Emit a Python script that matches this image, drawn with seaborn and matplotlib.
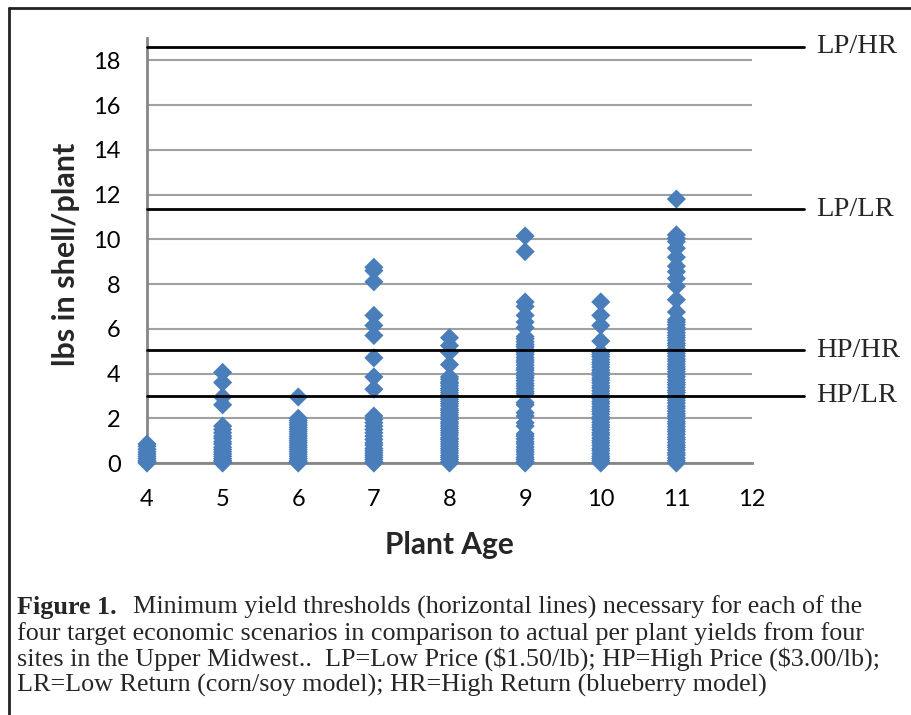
import numpy as np
import pandas as pd
import matplotlib
matplotlib.use("Agg")
import matplotlib.pyplot as plt
import matplotlib.transforms as mtransforms
from matplotlib.lines import Line2D
import seaborn as sns

# per-plant yields (lbs in shell), by plant age
yield_age4 = [0.85, 0.75, 0.62, 0.5, 0.4, 0.3, 0.2, 0.1, 0.05, 0.0]
yield_age5 = [4.05, 3.6, 2.95, 2.6, 1.65, 1.5, 1.35, 1.2, 1.1, 0.95, 0.85,
              0.7, 0.6, 0.5, 0.4, 0.3, 0.2, 0.12, 0.05, 0.0]
yield_age6 = [2.95, 2.0, 1.9, 1.8, 1.7, 1.6, 1.5, 1.4, 1.3, 1.2, 1.1, 1.0,
              0.9, 0.8, 0.7, 0.6, 0.5, 0.4, 0.3, 0.2, 0.1, 0.05, 0.0]
yield_age7 = [8.75, 8.6, 8.1, 6.6, 6.15, 5.7, 4.7, 3.85, 3.3, 2.1, 1.95,
              1.8, 1.65, 1.5, 1.35, 1.2, 1.05, 0.9, 0.8, 0.65, 0.55, 0.45,
              0.35, 0.25, 0.15, 0.05, 0.0]
yield_age8 = [5.6, 5.25, 4.95, 4.4, 3.85, 3.75, 3.62, 3.55, 3.45, 3.33, 3.25,
              3.15, 3.05, 2.92, 2.85, 2.75, 2.65, 2.55, 2.42, 2.35, 2.25,
              2.15, 2.05, 1.95, 1.83, 1.75, 1.65, 1.55, 1.45, 1.35, 1.25,
              1.12, 1.05, 0.95, 0.85, 0.75, 0.65, 0.55, 0.45, 0.33, 0.25,
              0.15, 0.05, 0.0]
yield_age9 = [10.15, 9.45, 7.2, 7.0, 6.6, 6.3, 6.05, 5.65, 5.55, 5.42, 5.3,
              5.2, 5.08, 4.95, 4.85, 4.72, 4.6, 4.5, 4.38, 4.25, 4.15, 4.02,
              3.9, 3.8, 3.68, 3.55, 3.45, 3.33, 3.2, 3.1, 2.7, 2.6, 2.25,
              2.1, 1.8, 1.65, 1.3, 1.2, 1.08, 0.95, 0.85, 0.72, 0.6, 0.5,
              0.38, 0.25, 0.15, 0.05, 0.0]
yield_age10 = [7.2, 6.6, 6.15, 5.45, 4.95, 4.85, 4.75, 4.62, 4.5, 4.4, 4.28,
               4.15, 4.05, 3.92, 3.8, 3.7, 3.58, 3.45, 3.35, 3.22, 3.1, 3.0,
               2.88, 2.75, 2.65, 2.52, 2.4, 2.3, 2.18, 2.05, 1.95, 1.82, 1.7,
               1.6, 1.48, 1.35, 1.25, 1.12, 1.0, 0.9, 0.78, 0.65, 0.55, 0.42,
               0.3, 0.2, 0.1, 0.0]
yield_age11 = [11.8, 10.2, 10.05, 9.9, 9.6, 9.2, 8.8, 8.55, 8.25, 7.9, 7.3,
               6.75, 6.4, 6.3, 6.18, 6.05, 5.95, 5.82, 5.7, 5.6, 5.48, 5.35,
               5.25, 5.12, 5.0, 4.9, 4.78, 4.65, 4.55, 4.42, 4.3, 4.2, 4.08,
               3.95, 3.85, 3.72, 3.6, 3.5, 3.38, 3.25, 3.15, 3.02, 2.9, 2.8,
               2.68, 2.55, 2.45, 2.32, 2.2, 2.1, 1.98, 1.85, 1.75, 1.62, 1.5,
               1.4, 1.28, 1.15, 1.05, 0.92, 0.8, 0.7, 0.58, 0.45, 0.35, 0.22,
               0.1, 0.0]

yields_by_age = {4: yield_age4, 5: yield_age5, 6: yield_age6, 7: yield_age7,
                 8: yield_age8, 9: yield_age9, 10: yield_age10, 11: yield_age11}

# minimum yield thresholds for the four scenarios
scenarios = ["LP/HR", "LP/LR", "HP/HR", "HP/LR"]
thresholds = [18.6, 11.35, 5.05, 3.0]

x_ticks = [4, 5, 6, 7, 8, 9, 10, 11, 12]
y_ticks = [0, 2, 4, 6, 8, 10, 12, 14, 16, 18]

df = pd.DataFrame([(age, v) for age, vals in yields_by_age.items() for v in vals],
                  columns=["age", "lbs"])

sns.set_style("white")
plt.rcParams["font.family"] = ["Lato", "DejaVu Sans"]

W, H = 911, 715
fig = plt.figure(figsize=(W / 100, H / 100), dpi=100)
# axes box in pixels: x 147..752, y 38..463
ax = fig.add_axes([147 / W, (H - 463) / H, (752 - 147) / W, (463 - 38) / H])

sns.scatterplot(data=df, x="age", y="lbs", ax=ax, marker="D", s=95,
                color="#4a7ebb", edgecolor="none", linewidth=0,
                clip_on=False, zorder=3)

ax.set_xlim(4, 12)
ax.set_ylim(0, 19)
ax.set_xticks(x_ticks)
ax.set_yticks(y_ticks)
ax.tick_params(axis="both", length=0, labelsize=17, pad=19, colors="black")
ax.yaxis.grid(True, color="#a0a0a0", linewidth=1.5)
ax.set_axisbelow(True)
for side in ["top", "right"]:
    ax.spines[side].set_visible(False)
for side in ["left", "bottom"]:
    ax.spines[side].set_color("#868686")
    ax.spines[side].set_linewidth(2)
    ax.spines[side].set_zorder(2.5)

ax.set_xlabel("Plant Age", fontsize=21.5, fontweight="bold")
ax.set_ylabel("lbs in shell/plant", fontsize=22, fontweight="bold")
ax.xaxis.set_label_coords(0.5, (463 - 531) / 425)
ax.yaxis.set_label_coords((80 - 147) / 605, (463 - 254) / 425)

# threshold lines run past the plot area, labels on the right
trans = mtransforms.blended_transform_factory(ax.transAxes, ax.transData)
line_end = (804 - 147) / 605
label_x = (816 - 147) / 605
for name, t in zip(scenarios, thresholds):
    ax.add_line(Line2D([0, line_end], [t, t], transform=trans, color="black",
                       linewidth=2, clip_on=False, zorder=4))
    ax.text(label_x, t, name, transform=trans, ha="left", va="center",
            fontsize=20.5, family="Liberation Serif", clip_on=False)

# frame (top and left edges visible)
fig.add_artist(Line2D([9 / W, 9 / W], [0, 1 - 8 / H], color="#222222", linewidth=2))
fig.add_artist(Line2D([9 / W, 1], [1 - 8 / H, 1 - 8 / H], color="#222222", linewidth=2))

# caption
cap_font = dict(family="Liberation Serif", fontsize=18.8, va="baseline", ha="left")
fig.text(17 / W, 1 - 614 / H, "Figure 1.", fontweight="bold", **cap_font)
fig.text(133 / W, 1 - 614 / H,
         "Minimum yield thresholds (horizontal lines) necessary for each of the",
         **cap_font)
caption_rest = [
    "four target economic scenarios in comparison to actual per plant yields from four",
    "sites in the Upper Midwest..  LP=Low Price (\\$1.50/lb); HP=High Price (\\$3.00/lb);",
    "LR=Low Return (corn/soy model); HR=High Return (blueberry model)",
]
for i, line in enumerate(caption_rest):
    fig.text(17 / W, 1 - (640 + 25.6 * i) / H, line, **cap_font)

fig.savefig("out.png", dpi=100)
